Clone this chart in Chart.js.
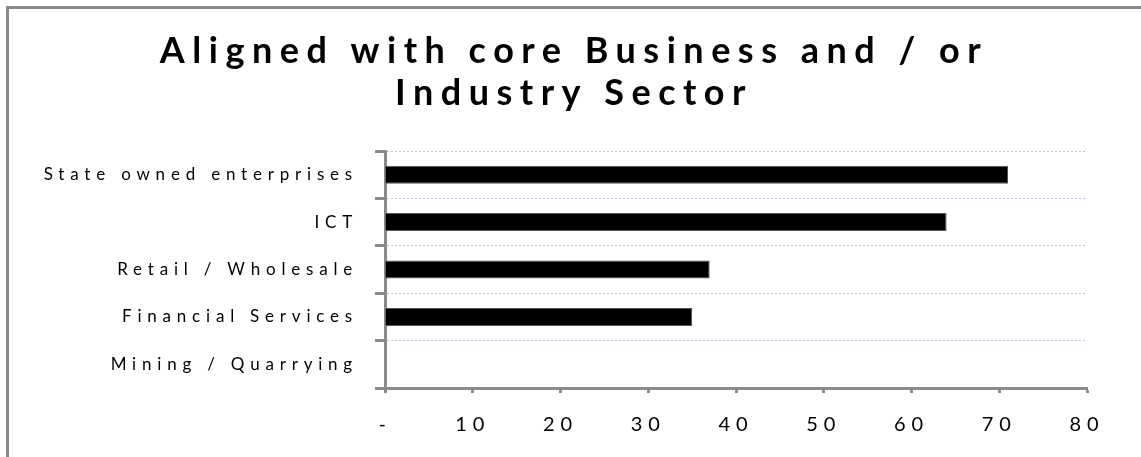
<!DOCTYPE html>
<html>
<head>
<meta charset="utf-8">
<title>Aligned with core Business and / or Industry Sector</title>
<script src="https://cdn.jsdelivr.net/npm/chart.js@4/dist/chart.umd.min.js"></script>
<style>
  html, body { margin: 0; padding: 0; background: #fff; overflow: hidden; }
  #frame {
    position: absolute; left: 6px; top: 6px; width: 1300px; height: 600px;
    border-top: 3px solid #8a8a8a; border-left: 3px solid #8a8a8a;
    pointer-events: none;
  }
  #chart { position: absolute; left: 0; top: 0; }
</style>
</head>
<body>
<canvas id="chart" width="1141" height="457"></canvas>
<div id="frame"></div>
<script>
// Sectors and share of answers
const sectors = ["State owned enterprises", "ICT", "Retail / Wholesale", "Financial Services", "Mining / Quarrying"];
const valors = [71, 64, 37, 35, 0];
const titleLines = ["Aligned with core Business and / or", "Industry Sector"];

const gris = "#8a8a8a";

// Title drawn by hand so it gets its own letter spacing
const titolPlugin = {
  id: "titol",
  beforeDraw(chart) {
    chart.ctx.letterSpacing = "5.8px";
  },
  afterDraw(chart) {
    const ctx = chart.ctx;
    ctx.save();
    ctx.letterSpacing = "7.5px";
    ctx.font = "bold 36px Lato";
    ctx.fillStyle = "#000";
    ctx.textAlign = "center";
    ctx.textBaseline = "alphabetic";
    ctx.fillText(titleLines[0], 574, 63);
    ctx.fillText(titleLines[1], 574, 105);
    ctx.restore();
  }
};

new Chart(document.getElementById("chart"), {
  type: "bar",
  data: {
    labels: sectors,
    datasets: [{
      data: valors,
      backgroundColor: "#000",
      borderColor: "#555",
      borderWidth: 1,
      barPercentage: 0.38,
      categoryPercentage: 1
    }]
  },
  options: {
    indexAxis: "y",
    responsive: false,
    animation: false,
    layout: { padding: { top: 151, right: 54, left: 0, bottom: 0 } },
    plugins: {
      legend: { display: false },
      title: { display: false },
      tooltip: { enabled: false }
    },
    scales: {
      y: {
        afterFit(scale) { scale.width = 385; },
        grid: {
          color: "#b4c6e7",
          lineWidth: 1,
          tickColor: gris,
          tickWidth: 3,
          tickLength: 10,
          tickBorderDash: []
        },
        border: { color: gris, width: 3, dash: [2, 2] },
        ticks: {
          color: "#000",
          padding: 17,
          font: { family: "Lato", size: 17 }
        }
      },
      x: {
        min: 0,
        max: 80,
        afterFit(scale) { scale.height = 69; },
        grid: {
          drawOnChartArea: false,
          tickColor: gris,
          tickWidth: 3,
          tickLength: 5
        },
        border: { color: gris, width: 3 },
        ticks: {
          stepSize: 10,
          color: "#000",
          padding: 20,
          font: { family: "Lato", size: 20 },
          callback: v => v === 0 ? "-" : v
        }
      }
    }
  },
  plugins: [titolPlugin]
});
</script>
</body>
</html>
